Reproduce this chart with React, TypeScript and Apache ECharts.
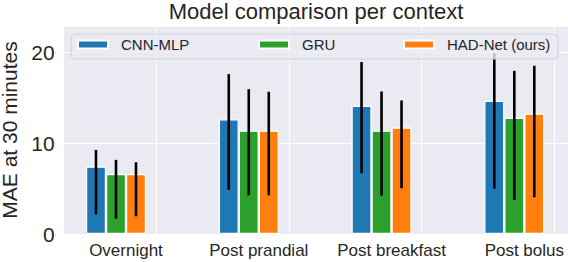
import React, { useEffect, useRef } from "react";
import * as echarts from "echarts";

const categories = ["Overnight", "Post prandial", "Post breakfast", "Post bolus"];
const seriesNames = ["CNN-MLP", "GRU", "HAD-Net (ours)"];
const colors = ["#1f77b4", "#2ca02c", "#ff7f0e"];

const cnnMean = [7.42, 12.64, 14.11, 14.66];
const gruMean = [6.6, 11.39, 11.39, 12.79];
const hadMean = [6.6, 11.39, 11.72, 13.26];

const cnnLow = [2.17, 4.85, 6.69, 5.0];
const cnnHigh = [9.26, 17.6, 18.93, 19.9];
const gruLow = [1.69, 4.26, 4.22, 3.75];
const gruHigh = [8.16, 15.95, 15.69, 17.97];
const hadLow = [1.95, 4.26, 5.04, 4.05];
const hadHigh = [7.9, 15.66, 14.7, 18.52];

const yTicks = [0, 10, 20];

const FONT = "Liberation Sans, Arial, Helvetica, sans-serif";
const TEXT = "#262626";

export default function App() {
  const ref = useRef<HTMLDivElement>(null);
  useEffect(() => {
    if (!ref.current) return;
    const chart = echarts.init(ref.current, null, { renderer: "svg" });
    const means = [cnnMean, gruMean, hadMean];
    const lows = [cnnLow, gruLow, hadLow];
    const highs = [cnnHigh, gruHigh, hadHigh];
    const offsets = [-30, -10, 10];
    const barSeries: any[] = seriesNames.map((name, i) => ({
      name,
      type: "bar",
      data: means[i],
      barWidth: 20,
      barGap: "0%",
      z: 2,
      itemStyle: { color: colors[i], borderColor: "#ffffff", borderWidth: 1.2 },
    }));
    barSeries.push({
      name: "spacer",
      type: "bar",
      data: categories.map(() => "-"),
      barWidth: 20,
      barGap: "0%",
      z: 1,
      silent: true,
      markLine: {
        silent: true,
        symbol: "none",
        label: { show: false },
        lineStyle: { color: "#ffffff", width: 1, type: "solid" },
        data: categories.map((c) => ({ xAxis: c })),
      },
    });
    const errSeries = seriesNames.map((name, i) => ({
      name: name + " error",
      type: "custom",
      z: 3,
      clip: false,
      data: categories.map((_, k) => [k, lows[i][k], highs[i][k]]),
      renderItem: (params: any, api: any) => {
        const idx = api.value(0);
        const p1 = api.coord([idx, api.value(1)]);
        const p2 = api.coord([idx, api.value(2)]);
        const x = p1[0] + offsets[i];
        return {
          type: "line",
          shape: { x1: x, y1: p1[1], x2: x, y2: p2[1] },
          style: { stroke: "#000000", lineWidth: 2.6 },
        };
      },
    }));
    const legendLefts = [77, 258, 403];
    chart.setOption({
      animation: false,
      textStyle: { fontFamily: FONT },
      title: {
        text: "Model comparison per context",
        left: 316,
        textAlign: "center",
        top: 0,
        padding: 0,
        textStyle: { fontFamily: FONT, fontSize: 22, lineHeight: 22, fontWeight: "normal", color: TEXT },
      },
      legend: seriesNames.map((name, i) => ({
        data: [name],
        left: legendLefts[i],
        top: 36,
        padding: 0,
        z: 110,
        itemWidth: 30,
        itemHeight: 8,
        icon: "rect",
        selectedMode: false,
        textStyle: {
          fontFamily: FONT,
          fontSize: 15,
          color: TEXT,
          lineHeight: 17,
          padding: [0, 0, 0, 8],
        },
      })),
      graphic: [
        {
          type: "rect",
          z: -10,
          silent: true,
          shape: { x: 64, y: 26, width: 504, height: 208 },
          style: { fill: "#eaeaf2" },
        },
        {
          type: "rect",
          z: 100,
          silent: true,
          shape: { x: 71, y: 34, width: 487, height: 25, r: 4 },
          style: { fill: "rgba(234,234,242,0.8)", stroke: "#d2d2d8", lineWidth: 1 },
        },
      ],
      grid: { left: 59.6, right: -22.7, top: 26, bottom: 28, outerBoundsMode: "none", containLabel: false },
      xAxis: {
        type: "category",
        data: categories,
        axisLine: { show: false },
        axisTick: { show: false },
        splitLine: { show: false },
        axisLabel: { interval: 0, fontFamily: FONT, fontSize: 17, color: TEXT, margin: 8 },
      },
      yAxis: {
        type: "value",
        min: 0,
        max: 22.9,
        interval: 10,
        name: "MAE at 30 minutes",
        nameLocation: "middle",
        nameGap: 36,
        nameTextStyle: { fontFamily: FONT, fontSize: 21, lineHeight: 21, color: TEXT },
        axisLine: { show: false },
        axisTick: { show: false },
        splitLine: { show: true, lineStyle: { color: "#ffffff", width: 1 } },
        axisLabel: {
          fontFamily: FONT,
          fontSize: 21,
          color: TEXT,
          margin: 5,
          showMaxLabel: false,
          formatter: (v: number) => (yTicks.includes(v) ? String(v) : ""),
        },
      },
      series: [...barSeries, ...errSeries],
    });
    return () => chart.dispose();
  }, []);
  return (
    <div
      ref={ref}
      style={{ position: "absolute", left: 0, top: 0, width: 568, height: 262 }}
    />
  );
}
